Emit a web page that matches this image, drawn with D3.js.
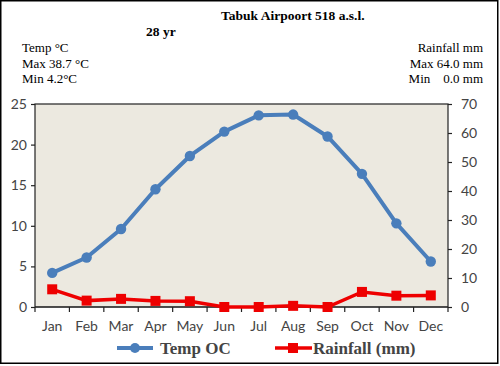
<!DOCTYPE html>
<html>
<head>
<meta charset="utf-8">
<script src="https://cdn.jsdelivr.net/npm/d3@7"></script>
<style>
body { margin: 0; background: #fff; }
svg { display: block; }
.serif { font-family: "Liberation Serif", "DejaVu Serif", serif; fill: #000; }
.axis text { font-family: Lato, "Open Sans", sans-serif; font-size: 14px; fill: #444; }
.axis path, .axis line { stroke: #222; stroke-width: 1.2; }
</style>
</head>
<body>
<svg id="chart"></svg>
<script>
const months = ["Jan","Feb","Mar","Apr","May","Jun","Jul","Aug","Sep","Oct","Nov","Dec"];
const temp = [4.2, 6.1, 9.6, 14.5, 18.6, 21.6, 23.6, 23.7, 21.0, 16.4, 10.3, 5.6];
const rain = [6.1, 2.2, 2.8, 2.1, 2.0, 0.0, 0.0, 0.4, 0.0, 5.2, 3.9, 4.0];
const tempTicks = [0, 5, 10, 15, 20, 25];
const rainTicks = [0, 10, 20, 30, 40, 50, 60, 70];

const width = 500, height = 366;
const margin = {top: 104, right: 52, bottom: 59, left: 35};

const svg = d3.select("#chart")
  .attr("width", width)
  .attr("height", height);

// outer frame
svg.append("rect")
  .attr("x", 0.75).attr("y", 0.75)
  .attr("width", width - 3).attr("height", height - 3.5)
  .attr("fill", "none").attr("stroke", "#000").attr("stroke-width", 1.5);

let x = d3.scaleBand()
  .domain(months)
  .range([margin.left, width - margin.right]);

let yT = d3.scaleLinear()
  .domain([0, 25])
  .range([height - margin.bottom, margin.top]);

let yR = d3.scaleLinear()
  .domain([0, 70])
  .range([height - margin.bottom, margin.top]);

// plot background
svg.append("rect")
  .attr("x", margin.left).attr("y", margin.top)
  .attr("width", x.range()[1] - margin.left)
  .attr("height", yT(0) - yT(25))
  .attr("fill", "#ECE9E0")
  .attr("stroke", "#222").attr("stroke-width", 1.2);

// axes
svg.append("g")
  .attr("class", "axis")
  .attr("transform", `translate(${margin.left},0)`)
  .call(d3.axisLeft(yT).tickValues(tempTicks).tickSize(4).tickPadding(4))
  .call(g => g.select(".domain").remove());

svg.append("g")
  .attr("class", "axis")
  .attr("transform", `translate(${x.range()[1]},0)`)
  .call(d3.axisRight(yR).tickValues(rainTicks).tickSize(4).tickPadding(9))
  .call(g => g.select(".domain").remove());

let xAxis = svg.append("g")
  .attr("class", "axis")
  .attr("transform", `translate(0,${yT(0)})`)
  .call(d3.axisBottom(x).tickSize(0).tickPadding(14));
xAxis.select(".domain").attr("d", `M${x.range()[0]},0H${x.range()[1]}`);

// category boundary ticks
xAxis.selectAll("line.bound")
  .data(d3.range(months.length + 1))
  .enter()
  .append("line")
  .attr("class", "bound")
  .attr("x1", i => x.range()[0] + i * x.step())
  .attr("x2", i => x.range()[0] + i * x.step())
  .attr("y1", 0).attr("y2", 5);

const cx = d => x(d) + x.bandwidth() / 2;

// temperature
svg.append("path")
  .datum(temp)
  .attr("fill", "none")
  .attr("stroke", "#4A7EBB")
  .attr("stroke-width", 4)
  .attr("stroke-linejoin", "round")
  .attr("d", d3.line().x((d, i) => cx(months[i])).y(d => yT(d)));

svg.selectAll("circle.t")
  .data(temp)
  .enter()
  .append("circle")
  .attr("class", "t")
  .attr("cx", (d, i) => cx(months[i]))
  .attr("cy", d => yT(d))
  .attr("r", 5.2)
  .attr("fill", "#4A7EBB");

// rainfall
svg.append("path")
  .datum(rain)
  .attr("fill", "none")
  .attr("stroke", "#EE0000")
  .attr("stroke-width", 3.5)
  .attr("d", d3.line().x((d, i) => cx(months[i])).y(d => yR(d)));

svg.selectAll("rect.r")
  .data(rain)
  .enter()
  .append("rect")
  .attr("class", "r")
  .attr("x", (d, i) => cx(months[i]) - 5)
  .attr("y", d => yR(d) - 5)
  .attr("width", 10).attr("height", 10)
  .attr("fill", "#EE0000");

// titles
svg.append("text").attr("class", "serif")
  .attr("x", 221).attr("y", 20)
  .style("font-size", "13.5px").style("font-weight", "bold")
  .text("Tabuk Airpoort 518 a.s.l.");
svg.append("text").attr("class", "serif")
  .attr("x", 146).attr("y", 36)
  .style("font-size", "13.5px").style("font-weight", "bold")
  .text("28 yr");

const leftInfo = ["Temp °C", "Max 38.7 °C", "Min 4.2°C"];
const rightInfo = ["Rainfall mm", "Max 64.0 mm", "Min\u00a0\u00a0\u00a0\u00a00.0 mm"];

svg.selectAll("text.li")
  .data(leftInfo)
  .enter()
  .append("text")
  .attr("class", "serif li")
  .attr("x", 22)
  .attr("y", (d, i) => 52 + i * 15.5)
  .style("font-size", "13px")
  .text(d => d);

svg.selectAll("text.ri")
  .data(rightInfo)
  .enter()
  .append("text")
  .attr("class", "serif ri")
  .attr("x", 483)
  .attr("y", (d, i) => 52 + i * 15.5)
  .style("font-size", "13px")
  .style("text-anchor", "end")
  .text(d => d);

// legend
let legend = svg.append("g").attr("transform", "translate(0,348)");
legend.append("line")
  .attr("x1", 117).attr("x2", 153).attr("y1", 0).attr("y2", 0)
  .attr("stroke", "#4A7EBB").attr("stroke-width", 4);
legend.append("circle")
  .attr("cx", 135).attr("cy", 0).attr("r", 5).attr("fill", "#4A7EBB");
legend.append("text").attr("class", "serif")
  .attr("x", 160).attr("y", 6)
  .style("font-size", "17px").style("font-weight", "bold").style("fill", "#444")
  .text("Temp OC");

legend.append("line")
  .attr("x1", 275).attr("x2", 312).attr("y1", 0).attr("y2", 0)
  .attr("stroke", "#EE0000").attr("stroke-width", 3.5);
legend.append("rect")
  .attr("x", 288).attr("y", -5).attr("width", 10).attr("height", 10)
  .attr("fill", "#EE0000");
legend.append("text").attr("class", "serif")
  .attr("x", 313).attr("y", 6)
  .style("font-size", "17px").style("font-weight", "bold").style("fill", "#444")
  .text("Rainfall (mm)");
</script>
</body>
</html>
